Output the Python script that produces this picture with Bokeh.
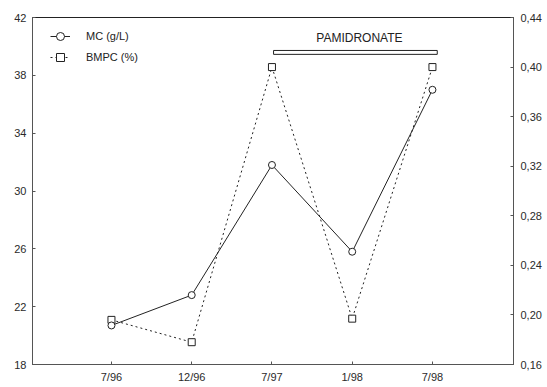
from bokeh.plotting import figure
from bokeh.models import (Range1d, LinearAxis, FixedTicker, CustomJSTickFormatter,
                          Legend, LegendItem, Label)
from bokeh.embed import file_html
from bokeh.resources import INLINE

# ---- data ----
dates = ["7/96", "12/96", "7/97", "1/98", "7/98"]
mc = [20.7, 22.8, 31.8, 25.8, 37.0]            # MC (g/L), left axis
bmpc = [0.196, 0.178, 0.400, 0.197, 0.400]     # BMPC (%), right axis
left_ticks = [18, 22, 26, 30, 34, 38, 42]
right_ticks = [0.16, 0.20, 0.24, 0.28, 0.32, 0.36, 0.40, 0.44]
treatment_label = "PAMIDRONATE"
treatment_span = (3.02, 5.06)     # x extent of the bracket (category index units)
treatment_bar_y = (39.45, 39.72)  # y extent of the bracket (left axis units)

FONT = "Liberation Sans"
INK = "#222222"
AX = "#555555"

xs = list(range(1, len(dates) + 1))

p = figure(width=547, height=387, output_backend="svg", toolbar_location=None,
           x_range=Range1d(0.016, 6.01), y_range=Range1d(18, 42),
           min_border_left=32, min_border_right=34, min_border_top=17,
           min_border_bottom=23)
p.extra_y_ranges = {"pct": Range1d(0.16, 0.44)}
p.xgrid.visible = False
p.ygrid.visible = False
p.outline_line_color = INK
p.outline_line_width = 1
p.background_fill_color = "white"
p.border_fill_color = "white"

# x axis
xa = p.xaxis[0]
xa.ticker = FixedTicker(ticks=xs)
xa.major_label_overrides = {i: d for i, d in zip(xs, dates)}
# y axis left
ya = p.yaxis[0]
ya.ticker = FixedTicker(ticks=left_ticks)
# right axis
ra = LinearAxis(y_range_name="pct", ticker=FixedTicker(ticks=right_ticks),
                formatter=CustomJSTickFormatter(code="return tick.toFixed(2).replace('.', ',');"))
p.add_layout(ra, "right")

for ax in (xa, ya, ra):
    ax.axis_line_color = AX
    ax.axis_line_width = 1
    ax.major_tick_in = 3
    ax.major_tick_out = 0
    ax.major_tick_line_color = AX
    ax.minor_tick_line_color = None
    ax.major_label_text_font = FONT
    ax.major_label_text_font_size = "11px"
    ax.major_label_text_color = "#2a2a2a"
    ax.major_label_standoff = 6
ra.major_label_standoff = 7
xa.major_label_standoff = 6

# series
l_b = p.line(xs, bmpc, y_range_name="pct", line_color=INK, line_width=1, line_dash="2 3")
s_b = p.scatter(xs, bmpc, y_range_name="pct", marker="square", size=7,
                fill_color="white", line_color=INK, line_width=1)
l_m = p.line(xs, mc, line_color=INK, line_width=1)
s_m = p.scatter(xs, mc, marker="circle", size=7, fill_color="white",
                line_color=INK, line_width=1)

# treatment bracket
p.quad(left=[treatment_span[0]], right=[treatment_span[1]],
       bottom=[treatment_bar_y[0]], top=[treatment_bar_y[1]],
       fill_color=None, line_color=INK, line_width=1)
p.add_layout(Label(x=4.09, y=40.6,
                   text=treatment_label, text_align="center", text_baseline="middle",
                   text_font=FONT, text_font_size="12px", text_color=INK))

legend = Legend(items=[LegendItem(label="MC (g/L)", renderers=[l_m, s_m]),
                       LegendItem(label="BMPC (%)", renderers=[l_b, s_b])],
                location=(18, 297), glyph_width=20, glyph_height=20,
                label_standoff=16, spacing=1, padding=0, margin=0,
                label_text_font=FONT, label_text_font_size="11px",
                label_text_color=INK, border_line_color=None,
                background_fill_alpha=0)
p.add_layout(legend, "center")

open("out.html", "w").write(file_html(p, INLINE))
